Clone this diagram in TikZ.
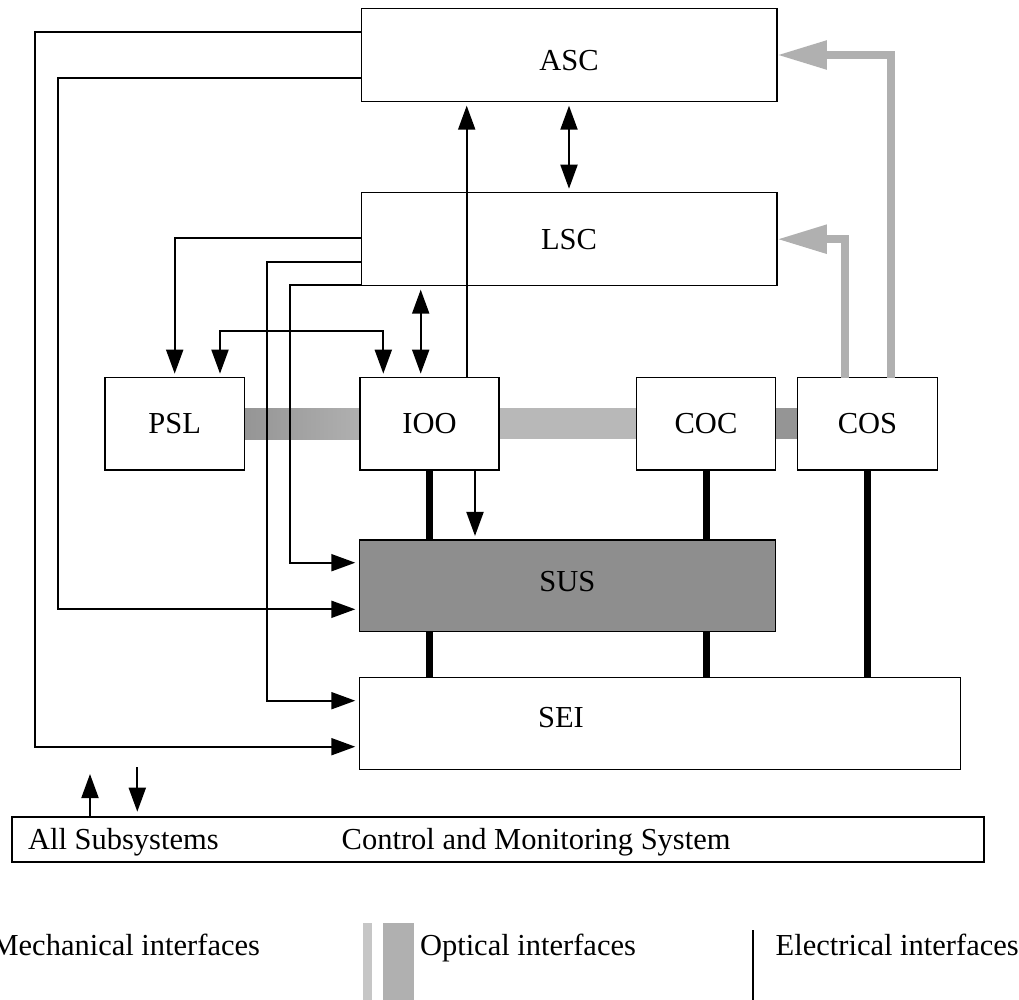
\documentclass[tikz,border=0pt]{standalone}
\usepackage{fontspec}
\setmainfont{Liberation Serif}
\usetikzlibrary{arrows.meta}
\pgfdeclarelayer{bg}
\pgfsetlayers{bg,main}
\definecolor{optgrey}{HTML}{B0B0B0}
\definecolor{optdark}{HTML}{959595}
\definecolor{optlight}{HTML}{C6C6C6}
\definecolor{susgrey}{HTML}{8E8E8E}
\tikzset{
  txt/.style={font=\fontsize{30.5}{36}\selectfont},
  box/.style={draw=black, line width=1.3pt, fill=white, inner sep=0pt, outer sep=0pt, txt},
  lbl/.style={inner sep=0pt, outer sep=0pt, txt},
  tip/.tip={Triangle[length=24pt,width=17pt]},
  conn/.style={line width=2pt, line join=miter, -tip, shorten >=4pt},
  twoway/.style={line width=2pt, tip-tip, shorten >=4pt, shorten <=4pt},
  elec/.style={line width=7pt},
  optic/.style={line width=8.3pt, draw=optgrey, line join=miter,
    -{Triangle[length=50pt,width=27pt]}},
}
\begin{document}
\begin{tikzpicture}[x=1pt,y=-1pt]
\useasboundingbox (0,0) rectangle (1019,1000);

% subsystem boxes
\node[box, minimum width=415.7pt, minimum height=93.4pt, text height=32pt] (asc) at (569,55) {ASC};
\node[box, minimum width=415.7pt, minimum height=93pt] (lsc) at (569,239.2) {LSC};
\node[box, minimum width=139.3pt, minimum height=92.3pt] (psl) at (174.7,423.8) {PSL};
\node[box, minimum width=139pt, minimum height=92.3pt] (ioo) at (429.5,423.8) {IOO};
\node[box, minimum width=138.6pt, minimum height=92.3pt] (coc) at (706,423.8) {COC};
\node[box, minimum width=139.6pt, minimum height=92.3pt] (cos) at (867.5,423.8) {COS};
\node[box, fill=susgrey, minimum width=416pt, minimum height=91.7pt, text depth=8pt] (sus) at (567.3,585.8) {SUS};
\node[box, minimum width=601.4pt, minimum height=92pt] (sei) at (660,723.5) {};
\node[lbl] (seil) at (561,717.5) {SEI};
\node[box, line width=2.4pt, minimum width=972.3pt, minimum height=45pt] (cms) at (497.9,839.2) {};
\node[lbl, anchor=base west] (allsub) at (28,849.5) {All Subsystems};
\node[lbl, anchor=base west] (cmsl) at (341.7,849.5) {Control and Monitoring System};

% optical links between the optical benches
\begin{pgfonlayer}{bg}
\fill[white] (0,0) rectangle (1019,1000);
\shade[left color=optdark, right color=optgrey] ([yshift=15.5pt]psl.east) rectangle ([yshift=-15.5pt]ioo.west);
\fill[optgrey!90] ([yshift=15.5pt]ioo.east) rectangle ([yshift=-15.5pt]coc.west);
\fill[optdark] ([yshift=15.5pt]coc.east) rectangle ([yshift=-15.5pt]cos.west);
\end{pgfonlayer}

% optical feeds from COS
\draw[optic] ([xshift=-22.5pt]cos.north) |- (lsc.east);
\draw[optic] ([xshift=23.8pt]cos.north) |- (asc.east);

% electrical interfaces
\draw[elec] (ioo.south) -- (ioo.south |- sus.north);
\draw[elec] (ioo.south |- sus.south) -- (ioo.south |- sei.north);
\draw[elec] (coc.south) -- (coc.south |- sus.north);
\draw[elec] (coc.south |- sus.south) -- (coc.south |- sei.north);
\draw[elec] (cos.south) -- (cos.south |- sei.north);

% control connections from ASC
\draw[conn] ([yshift=23.3pt]asc.west) -- ++(-326,0) |- ([yshift=-23.2pt]sei.west);
\draw[conn] ([yshift=-22.7pt]asc.west) -- ++(-302.7,0) |- ([yshift=-23.5pt]sus.west);

% control connections from LSC
\draw[conn] ([yshift=1pt]lsc.west) -| (psl.north);
\draw[conn] ([yshift=-23.1pt]lsc.west) -- ++(-94.3,0) |- ([yshift=22.8pt]sei.west);
\draw[conn] ([yshift=-45.8pt]lsc.west) -- ++(-71,0) |- ([yshift=23.1pt]sus.west);

% PSL <-> IOO
\draw[twoway, line join=miter] ([xshift=45.3pt]psl.north) -- ++(0,-46.7) -| ([xshift=-46.2pt]ioo.north);

% vertical links
\draw[twoway] (asc.south) -- (lsc.north);
\draw[twoway] ([xshift=-8.8pt]ioo.north) -- ++(0,-92);
\draw[conn] ([xshift=37.2pt]ioo.north) -- ++(0,-276);
\draw[conn] ([xshift=45.5pt]ioo.south) -- ++(0,70);

% links with the control and monitoring system
\draw[conn, shorten >=0pt] ([xshift=-407.9pt]cms.north) -- ([xshift=-407.9pt,yshift=42.7pt]cms.north);
\draw[conn, shorten >=5pt] ([xshift=-360.6pt,yshift=49.7pt]cms.north) -- ([xshift=-360.6pt]cms.north);

% legend
\node[lbl, anchor=base east] (mech) at (260,955) {Mechanical interfaces};
\node[lbl, anchor=base west] (optl) at (420,955) {Optical interfaces};
\node[lbl, anchor=base west] (elecl) at (775.7,955) {Electrical interfaces};
\fill[optlight] (363.3,922.7) rectangle (371.7,1000);
\fill[optgrey] (382.7,922.7) rectangle (414.3,1000);
\draw[line width=2pt] (753,930) -- (753,1000);
\end{tikzpicture}
\end{document}
